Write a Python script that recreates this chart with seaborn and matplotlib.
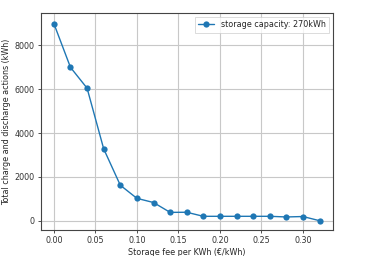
import matplotlib
matplotlib.use("Agg")
import matplotlib.pyplot as plt
import seaborn as sns
import pandas as pd

fees = [0.00, 0.02, 0.04, 0.06, 0.08, 0.10, 0.12, 0.14, 0.16, 0.18, 0.20, 0.22, 0.24, 0.26, 0.28, 0.30, 0.32]
actions = [9000, 7000, 6050, 3280, 1620, 1020, 830, 380, 385, 200, 200, 200, 200, 200, 170, 190, 0]
series_label = "storage capacity: 270kWh"

sns.set_style("whitegrid", {"axes.edgecolor": "#444444", "grid.color": "#c8c8c8",
                            "axes.linewidth": 0.8, "xtick.bottom": True, "ytick.left": True})
plt.rcParams['font.family'] = ['DejaVu Sans']

df = pd.DataFrame({"fee": fees, "actions": actions})

fig = plt.figure(figsize=(3.69, 2.56), dpi=100)
ax = fig.add_axes([0.110, 0.102, 0.792, 0.847])
sns.lineplot(data=df, x="fee", y="actions", marker="o", markersize=4.5, markeredgewidth=0,
             color="#1f77b4", linewidth=1.0, label=series_label, ax=ax)
ax.set_xlabel("Storage fee per KWh (€/kWh)", fontsize=5.8, labelpad=2)
ax.set_ylabel("Total charge and discharge actions (kWh)", fontsize=5.8, labelpad=2)
ax.tick_params(labelsize=5.8, length=2.5, width=0.6, pad=2, colors="#333333")
ax.set_xticks([0.00, 0.05, 0.10, 0.15, 0.20, 0.25, 0.30])
ax.set_xticklabels(["0.00", "0.05", "0.10", "0.15", "0.20", "0.25", "0.30"])
ax.set_yticks([0, 2000, 4000, 6000, 8000])
ax.set_xlim(-0.016, 0.336)
ax.set_ylim(-420, 9480)
for s in ax.spines.values():
    s.set_visible(True)
leg = ax.legend(loc="upper right", fontsize=5.8, frameon=True, fancybox=False)
leg.get_frame().set_edgecolor("#cccccc")
leg.get_frame().set_linewidth(0.6)
fig.savefig("out.png", dpi=100)
